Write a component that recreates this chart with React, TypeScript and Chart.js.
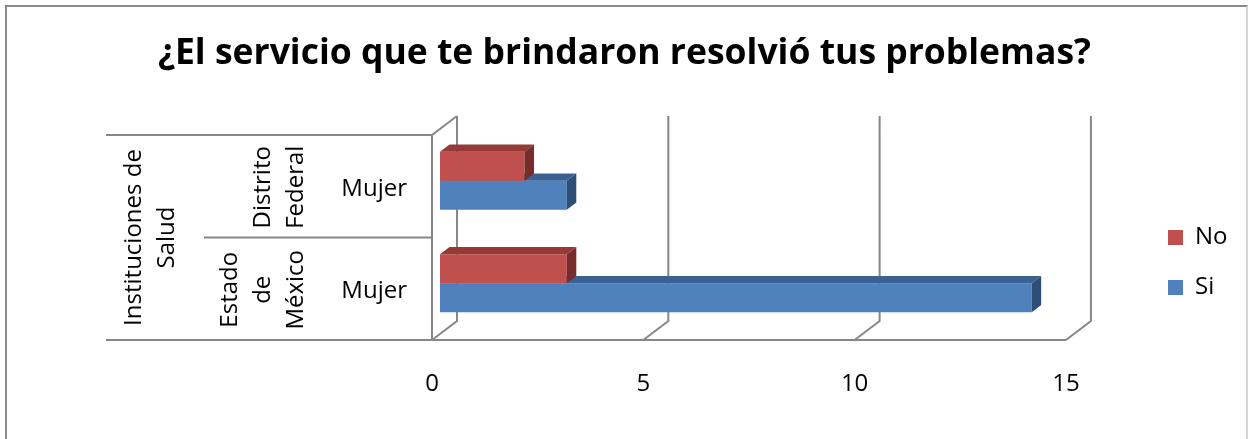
import React, { useEffect, useRef } from "react";
import { Chart, registerables } from "chart.js";

Chart.register(...registerables);

// ---------- data ----------
const titleText = "¿El servicio que te brindaron resolvió tus problemas?";
const categories = ["Mujer", "Mujer"];
const groupLabels = [["Distrito", "Federal"], ["Estado", "de", "México"]];
const topGroupLabel = ["Instituciones de", "Salud"];
const seriesNames = ["No", "Si"];
const noValues = [2, 3];
const siValues = [3, 14];
const xTickValues = [0, 5, 10, 15];

// ---------- styles / layout ----------
const W = 1249;
const H = 439;
const FONT = "'Open Sans', Lato, sans-serif";
const LABEL_SIZE = 24;
const TITLE_SIZE = 35.5;
const GRID_COLOR = "#878787";
const frontColors = ["#C0504D", "#4F81BD"];
const topColors = ["#953A37", "#3B6192"];
const sideColors = ["#772D2B", "#2E4E78"];

const PLOT_LEFT = 432;
const PLOT_TOP = 135;
const PLOT_BOTTOM = 340;
const PLOT_RIGHT = 1142; // chart area right (legend starts here)
const X_MAX = 16.8;
const DEPTH_X = 25;
const DEPTH_Y = -19;
const BAR_SHIFT_X = 8;
const BAR_SHIFT_Y = -5.5;
const BAR_DEPTH_X = 9.5;
const BAR_DEPTH_Y = -7.3;
const LEVEL1_LEFT = 106;
const LEVEL2_LEFT = 204;
const LEVEL2_LAST_BASELINE = 303;
const LEVEL1_LAST_BASELINE = 174;
const LINE_GAP = 33;
const LEGEND_GAP = 50;
const LEGEND_BOX = 15;

const framePlugin = {
  id: "frame3d",
  beforeDatasetsDraw(chart: any) {
    const { ctx, chartArea } = chart;
    const xs = chart.scales.x;
    const top = chartArea.top;
    const bottom = chartArea.bottom;
    const x0 = xs.getPixelForValue(xTickValues[0]);
    const xN = xs.getPixelForValue(xTickValues[xTickValues.length - 1]);
    ctx.save();
    ctx.strokeStyle = GRID_COLOR;
    ctx.lineWidth = 2;
    ctx.beginPath();
    for (const v of xTickValues) {
      const x = xs.getPixelForValue(v);
      ctx.moveTo(x + DEPTH_X, top + DEPTH_Y);
      ctx.lineTo(x + DEPTH_X, bottom + DEPTH_Y);
      ctx.lineTo(x, bottom);
    }
    ctx.moveTo(x0, bottom);
    ctx.lineTo(xN, bottom);
    ctx.moveTo(x0, bottom);
    ctx.lineTo(x0, top);
    ctx.lineTo(x0 + DEPTH_X, top + DEPTH_Y);
    // category separators
    const n = categories.length;
    const band = (bottom - top) / n;
    ctx.moveTo(LEVEL1_LEFT, top);
    ctx.lineTo(x0, top);
    ctx.moveTo(LEVEL1_LEFT, bottom);
    ctx.lineTo(x0, bottom);
    for (let i = 1; i < n; i++) {
      ctx.moveTo(LEVEL2_LEFT, top + band * i);
      ctx.lineTo(x0, top + band * i);
    }
    ctx.stroke();
    ctx.restore();
  },
};

const groupLabelPlugin = {
  id: "groupLabels",
  afterDraw(chart: any) {
    const { ctx, chartArea } = chart;
    const ys = chart.scales.y;
    ctx.save();
    ctx.font = `${LABEL_SIZE}px ${FONT}`;
    ctx.fillStyle = "#000";
    ctx.textAlign = "center";
    ctx.textBaseline = "alphabetic";
    const drawLines = (lines: string[], lastBaseline: number, cy: number) => {
      lines.forEach((line, j) => {
        const bx = lastBaseline - (lines.length - 1 - j) * LINE_GAP;
        ctx.save();
        ctx.translate(bx, cy);
        ctx.rotate(-Math.PI / 2);
        ctx.fillText(line, 0, 0);
        ctx.restore();
      });
    };
    groupLabels.forEach((lines, i) => {
      drawLines(lines, LEVEL2_LAST_BASELINE, ys.getPixelForValue(i) + 1);
    });
    drawLines(topGroupLabel, LEVEL1_LAST_BASELINE, (chartArea.top + chartArea.bottom) / 2);
    ctx.restore();
  },
};

const bar3dPlugin = {
  id: "bar3d",
  beforeDatasetDraw(chart: any) {
    chart.ctx.save();
    chart.ctx.translate(BAR_SHIFT_X, BAR_SHIFT_Y);
  },
  afterDatasetDraw(chart: any, args: any) {
    const ctx = chart.ctx;
    const idx = args.index;
    args.meta.data.forEach((bar: any) => {
      const { x, y, base, height } = bar.getProps(["x", "y", "base", "height"], true);
      const left = Math.min(base, x);
      const right = Math.max(base, x);
      const t = y - height / 2;
      const b = y + height / 2;
      ctx.fillStyle = topColors[idx];
      ctx.beginPath();
      ctx.moveTo(left, t);
      ctx.lineTo(left + BAR_DEPTH_X, t + BAR_DEPTH_Y);
      ctx.lineTo(right + BAR_DEPTH_X, t + BAR_DEPTH_Y);
      ctx.lineTo(right, t);
      ctx.closePath();
      ctx.fill();
      ctx.fillStyle = sideColors[idx];
      ctx.beginPath();
      ctx.moveTo(right, t);
      ctx.lineTo(right + BAR_DEPTH_X, t + BAR_DEPTH_Y);
      ctx.lineTo(right + BAR_DEPTH_X, b + BAR_DEPTH_Y);
      ctx.lineTo(right, b);
      ctx.closePath();
      ctx.fill();
    });
    ctx.restore();
  },
};

export default function App() {
  const ref = useRef<HTMLCanvasElement>(null);
  useEffect(() => {
    if (!ref.current) return;
    Chart.defaults.font.family = FONT;
    Chart.defaults.color = "#000";
    const titleLine = TITLE_SIZE * 1.2;
    const titlePadTop = 33;
    const legendItem = Math.max(LABEL_SIZE, LEGEND_BOX);
    const legendPad = LEGEND_GAP - legendItem;

    // measure legend width exactly as Chart.js does, so the legend starts at PLOT_RIGHT
    const mctx = document.createElement("canvas").getContext("2d")!;
    mctx.font = `normal ${LABEL_SIZE}px ${FONT}`;
    const tw = Math.max(...seriesNames.map((s) => mctx.measureText(s).width));
    const legendWidth = legendPad + LEGEND_BOX + LABEL_SIZE / 2 + tw + 10;
    const sidePad = Math.max(0, W - PLOT_RIGHT - legendWidth);

    const chart = new Chart(ref.current, {
      type: "bar",
      data: {
        labels: categories,
        datasets: [
          { label: seriesNames[0], data: noValues, backgroundColor: frontColors[0], borderWidth: 0 },
          { label: seriesNames[1], data: siValues, backgroundColor: frontColors[1], borderWidth: 0 },
        ],
      },
      options: {
        indexAxis: "y",
        responsive: false,
        animation: false,
        events: [],
        categoryPercentage: 0.566,
        barPercentage: 1,
        layout: { padding: { left: sidePad, right: sidePad, top: 0, bottom: 0 } },
        scales: {
          x: {
            type: "linear",
            min: 0,
            max: X_MAX,
            afterBuildTicks: (s: any) => {
              s.ticks = xTickValues.map((v) => ({ value: v }));
            },
            afterFit: (s: any) => {
              s.height = H - PLOT_BOTTOM;
            },
            grid: { display: false, drawTicks: false, tickLength: 0 },
            border: { display: false },
            ticks: { font: { size: LABEL_SIZE }, color: "#000", padding: 29.5, maxRotation: 0 },
          },
          y: {
            type: "category",
            afterFit: (s: any) => {
              s.width = PLOT_LEFT - sidePad;
            },
            grid: { display: false, drawTicks: false, tickLength: 0 },
            border: { display: false },
            ticks: { font: { size: LABEL_SIZE }, color: "#000", padding: 25, labelOffset: 2.5 },
          },
        },
        plugins: {
          title: {
            display: true,
            text: titleText,
            color: "#000",
            font: { size: TITLE_SIZE, weight: "bold", lineHeight: 1.2 },
            padding: { top: titlePadTop, bottom: PLOT_TOP - titlePadTop - titleLine },
          },
          legend: {
            display: true,
            position: "right",
            labels: {
              boxWidth: LEGEND_BOX,
              boxHeight: LEGEND_BOX,
              padding: legendPad,
              color: "#000",
              font: { size: LABEL_SIZE },
            },
            title: {
              display: true,
              text: "",
              font: { size: 12, lineHeight: 1.2 },
              padding: { top: 0, bottom: 86 - 14.4 },
            },
          },
          tooltip: { enabled: false },
        },
      },
      plugins: [framePlugin, bar3dPlugin, groupLabelPlugin],
    } as any);
    return () => chart.destroy();
  }, []);

  return (
    <div style={{ position: "fixed", left: 0, top: 0, width: W, height: H, background: "#fff", overflow: "hidden" }}>
      <div
        style={{
          position: "absolute",
          left: 5,
          top: 5,
          width: 1243,
          height: 470,
          boxSizing: "border-box",
          borderTop: "2px solid #8a8a8a",
          borderLeft: "2px solid #8a8a8a",
          borderRight: "2px solid #d4d4d4",
        }}
      />
      <canvas ref={ref} width={W} height={H} style={{ position: "absolute", left: 0, top: 0, width: W, height: H }} />
    </div>
  );
}
